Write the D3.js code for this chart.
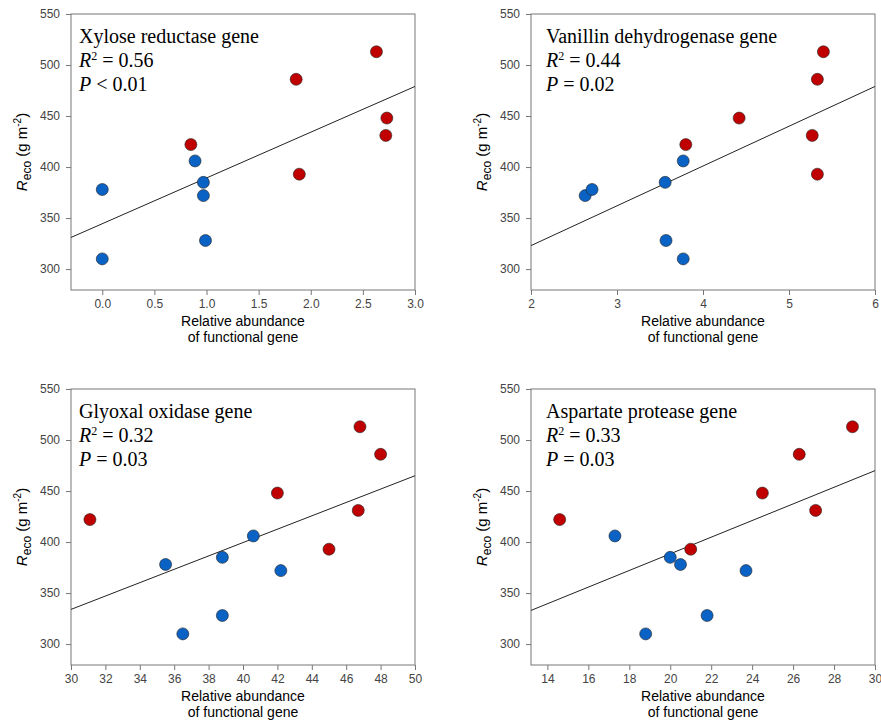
<!DOCTYPE html>
<html><head><meta charset="utf-8">
<script src="https://cdn.jsdelivr.net/npm/d3@7"></script>
<style>body{margin:0;background:#fff}</style>
</head><body>
<script>
// panel titles and stats
var titles = ["Xylose reductase gene", "Vanillin dehydrogenase gene", "Glyoxal oxidase gene", "Aspartate protease gene"];
var r2 = ["0.56", "0.44", "0.32", "0.33"];
var pText = ["< 0.01", "= 0.02", "= 0.03", "= 0.03"];
var xDomains = [[-0.3, 3], [2, 6], [30, 50], [13.2, 30]];
var xTicks = [[0, 0.5, 1, 1.5, 2, 2.5, 3], [2, 3, 4, 5, 6], d3.range(30, 51, 2), d3.range(14, 31, 2)];
var yTicks = [300, 350, 400, 450, 500, 550];
// points: [x, y]
var blue = [
  [[0, 378], [0, 310], [0.89, 406], [0.97, 385], [0.97, 372], [0.99, 328]],
  [[2.63, 372], [2.71, 378], [3.56, 385], [3.57, 328], [3.77, 406], [3.77, 310]],
  [[35.5, 378], [36.5, 310], [38.8, 385], [38.8, 328], [40.6, 406], [42.2, 372]],
  [[17.3, 406], [18.8, 310], [20.0, 385], [20.5, 378], [21.8, 328], [23.7, 372]]
];
var red = [
  [[0.85, 422], [1.86, 486], [1.89, 393], [2.63, 513], [2.73, 448], [2.72, 431]],
  [[3.8, 422], [4.42, 448], [5.27, 431], [5.33, 486], [5.33, 393], [5.4, 513]],
  [[31.1, 422], [42.0, 448], [45.0, 393], [46.7, 431], [46.8, 513], [48.0, 486]],
  [[14.6, 422], [21.0, 393], [24.5, 448], [26.3, 486], [27.1, 431], [28.9, 513]]
];
// fit line endpoints [x0,y0],[x1,y1]
var fits = [
  [[-0.3, 331], [3, 479]],
  [[2, 323], [6, 479]],
  [[30, 334], [50, 465]],
  [[13.2, 333], [30, 470]]
];

var W = 881, H = 726;
var svg = d3.select("body").append("svg").attr("width", W).attr("height", H);
var origins = [[71, 14], [531, 14], [71, 389], [531, 389]];
var pw = 344, ph = 276;

origins.forEach(function (o, i) {
  var g = svg.append("g").attr("transform", "translate(" + o[0] + "," + o[1] + ")");
  var x = d3.scaleLinear().domain(xDomains[i]).range([0, pw]);
  var y = d3.scaleLinear().domain([279.5, 550]).range([ph, 0]);

  g.append("rect").attr("width", pw).attr("height", ph)
    .attr("fill", "none").attr("stroke", "#777").attr("stroke-width", 1);

  var xa = g.append("g").attr("transform", "translate(0," + ph + ")")
    .call(d3.axisBottom(x).tickValues(xTicks[i]).tickSize(5).tickPadding(4)
      .tickFormat(i == 0 ? d3.format(".1f") : d3.format("d")));
  var ya = g.append("g")
    .call(d3.axisLeft(y).tickValues(yTicks).tickSize(5).tickPadding(6));
  [xa, ya].forEach(function (a) {
    a.select(".domain").remove();
    a.selectAll("line").attr("stroke", "#777");
    a.selectAll("text").attr("fill", "#444").style("font-family", "Liberation Sans, Arial").style("font-size", "12px");
  });

  g.append("line")
    .attr("x1", x(fits[i][0][0])).attr("y1", y(fits[i][0][1]))
    .attr("x2", x(fits[i][1][0])).attr("y2", y(fits[i][1][1]))
    .attr("stroke", "#222").attr("stroke-width", 1);

  g.selectAll(".b").data(blue[i]).enter().append("circle")
    .attr("cx", function (d) { return x(d[0]); }).attr("cy", function (d) { return y(d[1]); })
    .attr("r", 6).attr("fill", "#0a62c4").attr("stroke", "#222").attr("stroke-width", 0.6);
  g.selectAll(".r").data(red[i]).enter().append("circle")
    .attr("cx", function (d) { return x(d[0]); }).attr("cy", function (d) { return y(d[1]); })
    .attr("r", 6).attr("fill", "#c00000").attr("stroke", "#222").attr("stroke-width", 0.6);

  var tf = "Liberation Serif, Times New Roman";
  var tx = i % 2 == 0 ? 8 : 15;
  g.append("text").attr("x", tx).attr("y", 29).style("font-family", tf).style("font-size", "20px").text(titles[i]);
  var t2 = g.append("text").attr("x", tx).attr("y", 53).style("font-family", tf).style("font-size", "20px");
  t2.append("tspan").style("font-style", "italic").text("R");
  t2.append("tspan").attr("dy", -7).style("font-size", "12px").text("2");
  t2.append("tspan").attr("dy", 7).text(" = " + r2[i]);
  var t3 = g.append("text").attr("x", tx).attr("y", 77).style("font-family", tf).style("font-size", "20px");
  t3.append("tspan").style("font-style", "italic").text("P");
  t3.append("tspan").text(" " + pText[i]);

  var sf = "Liberation Sans, Arial";
  g.append("text").attr("x", pw / 2).attr("y", ph + 36).attr("text-anchor", "middle")
    .style("font-family", sf).style("font-size", "14px").text("Relative abundance");
  g.append("text").attr("x", pw / 2).attr("y", ph + 52).attr("text-anchor", "middle")
    .style("font-family", sf).style("font-size", "14px").text("of functional gene");

  var yl = g.append("text").attr("transform", "translate(-44," + (ph / 2) + ") rotate(-90)")
    .attr("text-anchor", "middle").style("font-family", sf).style("font-size", "15px");
  yl.append("tspan").style("font-style", "italic").text("R");
  yl.append("tspan").attr("dy", 4).style("font-size", "12px").text("eco");
  yl.append("tspan").attr("dy", -4).text(" (g m");
  yl.append("tspan").attr("dy", -6).style("font-size", "10px").text("-2");
  yl.append("tspan").attr("dy", 6).text(")");
});
</script>
</body></html>
